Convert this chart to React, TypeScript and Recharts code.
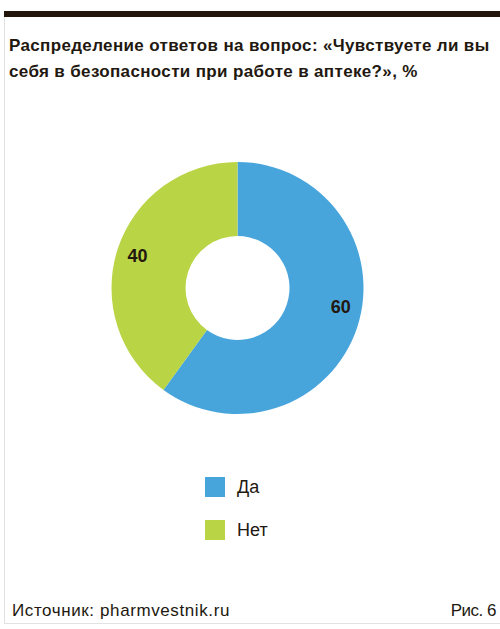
import React from "react";
import { PieChart, Pie, Cell } from "recharts";

const categories = ["Да", "Нет"];
const values = [60, 40];
const COLORS = ["#48A5DC", "#B9D444"];

const TEXT = "#22180F";
const FONT = "'Liberation Sans', Arial, sans-serif";

const chartData = categories.map((name, i) => ({ name, value: values[i] }));

const RADIAN = Math.PI / 180;

function renderLabel(props: any) {
  const { cx, cy, midAngle, value, index } = props;
  const r = 105;
  // the big slice's label sits a little above its middle in the original
  const angle = midAngle + (index === 0 ? 7.5 : 0);
  const x = cx + r * Math.cos(-angle * RADIAN);
  const y = cy + r * Math.sin(-angle * RADIAN);
  return (
    <text
      x={x}
      y={y}
      textAnchor="middle"
      dominantBaseline="central"
      fill={TEXT}
      fontFamily={FONT}
      fontWeight={700}
      fontSize={18}
    >
      {value}
    </text>
  );
}

export default function App() {
  return (
    <div style={{ position: "absolute", left: 0, top: 0, width: 500, height: 629, background: "#fff", fontFamily: FONT, color: TEXT }}>
      {/* frame */}
      <div style={{ position: "absolute", left: 4, top: 11, width: 496, height: 6, background: "#22150B" }} />
      <div style={{ position: "absolute", left: 4, top: 17, width: 1, height: 607, background: "#E2E2E2" }} />
      <div style={{ position: "absolute", left: 4, top: 623, width: 496, height: 1, background: "#E2E2E2" }} />

      <div
        style={{
          position: "absolute",
          left: 9,
          top: 33,
          width: 491,
          fontSize: 17,
          lineHeight: "26px",
          fontWeight: 700,
          letterSpacing: 0.35,
          whiteSpace: "nowrap",
        }}
      >
        Распределение ответов на вопрос: «Чувствуете ли вы
        <br />
        себя в безопасности при работе в аптеке?», %
      </div>

      <div style={{ position: "absolute", left: 0, top: 0 }}>
        <PieChart width={500} height={629}>
          <Pie
            data={chartData}
            dataKey="value"
            nameKey="name"
            cx={232.5}
            cy={283}
            innerRadius={52}
            outerRadius={126}
            startAngle={90}
            endAngle={-270}
            stroke="none"
            label={renderLabel}
            labelLine={false}
            isAnimationActive={false}
          >
            {chartData.map((entry, index) => (
              <Cell key={`cell-${index}`} fill={COLORS[index % COLORS.length]} />
            ))}
          </Pie>
        </PieChart>
      </div>

      {categories.map((name, i) => (
        <div key={name} style={{ position: "absolute", left: 205, top: 477 + i * 43, height: 20, display: "flex", alignItems: "center" }}>
          <div style={{ width: 20, height: 20, background: COLORS[i] }} />
          <span style={{ marginLeft: 12, fontSize: 18 }}>{name}</span>
        </div>
      ))}

      <div style={{ position: "absolute", left: 12, top: 601, fontSize: 17, lineHeight: "20px", letterSpacing: 0.6 }}>
        Источник: pharmvestnik.ru
      </div>
      <div style={{ position: "absolute", right: 4, top: 601, fontSize: 17, lineHeight: "20px", letterSpacing: -0.5 }}>
        Рис. 6
      </div>
    </div>
  );
}
